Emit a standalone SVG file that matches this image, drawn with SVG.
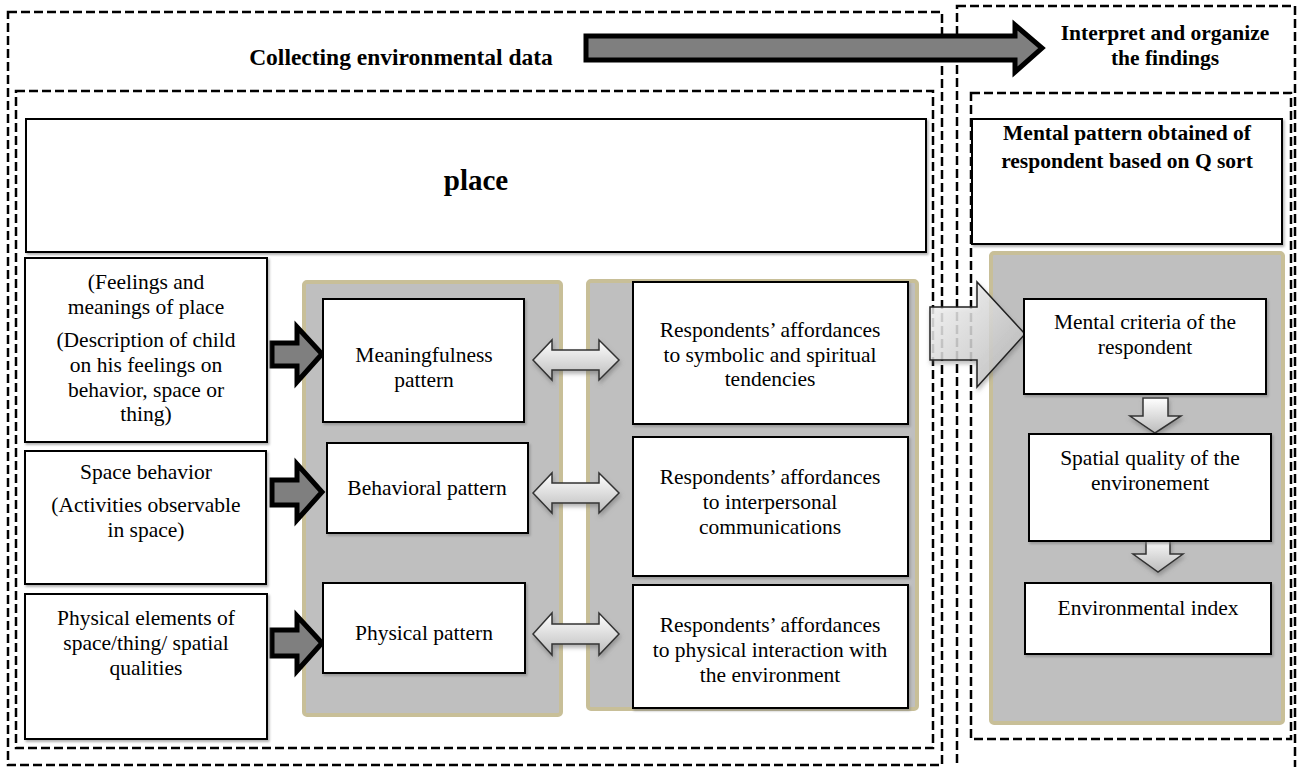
<svg xmlns="http://www.w3.org/2000/svg" width="1299" height="767" viewBox="0 0 1299 767">
<defs>
<style>
.frame{fill:none;stroke:#000;stroke-width:2.5;stroke-dasharray:9 4}
.panel{fill:#bfbfbf;stroke:#c8bf98;stroke-width:4}
.box{fill:#fff;stroke:#000;stroke-width:2;filter:url(#sh)}
.t{font-family:"Liberation Serif","Times New Roman",serif;font-size:21.5px;fill:#000;text-anchor:middle}
.b{font-weight:bold}
.dark{fill:#7f7f7f;stroke:#000;stroke-width:5;stroke-linejoin:miter}
.light{fill:url(#lg);stroke:#333;stroke-width:1.5;filter:url(#sh2)}
</style>
<linearGradient id="lg" x1="0" y1="0" x2="0" y2="1">
<stop offset="0" stop-color="#ffffff"/>
<stop offset="1" stop-color="#bcbcbc"/>
</linearGradient>
<linearGradient id="lg2" x1="0" y1="0" x2="1" y2="1">
<stop offset="0" stop-color="#ffffff"/>
<stop offset="1" stop-color="#b8b8b8"/>
</linearGradient>
<filter id="sh" x="-5%" y="-5%" width="110%" height="115%">
<feDropShadow dx="1.5" dy="2" stdDeviation="1" flood-color="#808080" flood-opacity="0.6"/>
</filter>
<filter id="sh2" x="-20%" y="-20%" width="140%" height="150%">
<feDropShadow dx="1" dy="3" stdDeviation="2" flood-color="#666" flood-opacity="0.5"/>
</filter>
</defs>
<rect width="1299" height="767" fill="#fff"/>

<g id="frames">
<rect id="frame-collecting" class="frame" x="8" y="12" width="934" height="753"/>
<rect id="frame-collecting-inner" class="frame" x="16" y="91" width="917" height="657"/>
<rect id="frame-interpret" class="frame" x="957" y="6" width="338" height="775"/>
<rect id="frame-interpret-inner" class="frame" x="971" y="93" width="320" height="646"/>
</g>

<g id="panels">
<rect id="panel-patterns" class="panel" x="304" y="282" width="257" height="433" rx="3"/>
<rect id="panel-affordances" class="panel" x="588" y="281" width="329" height="428" rx="3"/>
<rect id="panel-mental" class="panel" x="991" y="253" width="292" height="470" rx="3"/>
</g>

<g id="title-collecting"><text class="t b" x="401" y="65" style="font-size:23.5px">Collecting environmental data</text></g>
<g id="title-interpret"><text class="t b" x="1165" y="40">Interpret and organize</text><text class="t b" x="1165" y="65">the findings</text></g>

<g id="connectors">
<path id="arrow-main" class="dark" d="M586,36 L1015,36 L1015,25 L1042,48 L1015,72 L1015,60 L586,60 Z"/>
<path id="arrow-feel" class="dark" d="M272,343 L297,343 L297,327 L322,354 L297,382 L297,366 L272,366 Z"/>
<path id="arrow-space" class="dark" d="M272,480 L297,480 L297,464 L322,492 L297,520 L297,505 L272,505 Z"/>
<path id="arrow-phys" class="dark" d="M272,630 L297,630 L297,616 L322,643 L297,671 L297,656 L272,656 Z"/>
<path id="darr-1" class="light" d="M533,360 L552,340 L552,350 L599,350 L599,340 L619,360 L599,380 L599,370 L552,370 L552,380 Z"/>
<path id="darr-2" class="light" d="M533,493 L552,473 L552,483 L599,483 L599,473 L619,493 L599,513 L599,503 L552,503 L552,513 Z"/>
<path id="darr-3" class="light" d="M533,634 L552,613 L552,624 L599,624 L599,613 L619,634 L599,655 L599,644 L552,644 L552,655 Z"/>
<path id="arrow-big" d="M930,307 L977,307 L977,282 L1025,334 L977,387 L977,360 L930,360 Z" fill="url(#lg2)" fill-opacity="0.8" stroke="#222" stroke-width="1.5" filter="url(#sh2)"/>
<path id="down-1" class="light" d="M1143,398 L1168,398 L1168,416 L1181,416 L1155,433 L1130,416 L1143,416 Z"/>
<path id="down-2" class="light" d="M1146,537 L1170,537 L1170,554 L1183,554 L1158,572 L1133,554 L1146,554 Z"/>
</g>

<g id="place"><rect class="box" x="26" y="119" width="900" height="133"/><text class="t b" x="476" y="190" style="font-size:29px">place</text></g>
<g id="mental-pattern"><rect class="box" x="972" y="119" width="310" height="125"/><text class="t b" x="1127" y="140">Mental pattern obtained of</text><text class="t b" x="1127" y="168">respondent based on Q sort</text></g>

<g id="feelings"><rect class="box" x="25" y="258" width="242" height="184"/>
<text class="t" x="146" y="289">(Feelings and</text>
<text class="t" x="146" y="314">meanings of place</text>
<text class="t" x="146" y="347">(Description of child</text>
<text class="t" x="146" y="372">on his feelings on</text>
<text class="t" x="146" y="397">behavior, space or</text>
<text class="t" x="146" y="421">thing)</text></g>
<g id="space-behavior"><rect class="box" x="25" y="451" width="241" height="133"/>
<text class="t" x="146" y="479">Space behavior</text>
<text class="t" x="146" y="512">(Activities observable</text>
<text class="t" x="146" y="537">in space)</text></g>
<g id="physical-elements"><rect class="box" x="25" y="594" width="242" height="145"/>
<text class="t" x="146" y="625">Physical elements of</text>
<text class="t" x="146" y="650">space/thing/ spatial</text>
<text class="t" x="146" y="675">qualities</text></g>

<g id="meaningfulness"><rect class="box" x="323" y="299" width="201" height="123"/>
<text class="t" x="424" y="362">Meaningfulness</text>
<text class="t" x="424" y="387">pattern</text></g>
<g id="behavioral"><rect class="box" x="327" y="443" width="201" height="90"/>
<text class="t" x="427" y="495">Behavioral pattern</text></g>
<g id="physical"><rect class="box" x="323" y="583" width="202" height="90"/>
<text class="t" x="424" y="640">Physical pattern</text></g>

<g id="aff-symbolic"><rect class="box" x="633" y="282" width="275" height="142"/>
<text class="t" x="770" y="337">Respondents’ affordances</text>
<text class="t" x="770" y="362">to symbolic and spiritual</text>
<text class="t" x="770" y="386">tendencies</text></g>
<g id="aff-interpersonal"><rect class="box" x="633" y="437" width="275" height="139"/>
<text class="t" x="770" y="484">Respondents’ affordances</text>
<text class="t" x="770" y="509">to interpersonal</text>
<text class="t" x="770" y="534">communications</text></g>
<g id="aff-physical"><rect class="box" x="633" y="585" width="275" height="123"/>
<text class="t" x="770" y="632">Respondents’ affordances</text>
<text class="t" x="770" y="657">to physical interaction with</text>
<text class="t" x="770" y="682">the environment</text></g>

<g id="mental-criteria"><rect class="box" x="1024" y="299" width="242" height="95"/>
<text class="t" x="1145" y="329">Mental criteria of the</text>
<text class="t" x="1145" y="354">respondent</text></g>
<g id="spatial-quality"><rect class="box" x="1029" y="434" width="242" height="107"/>
<text class="t" x="1150" y="465">Spatial quality of the</text>
<text class="t" x="1150" y="490">environement</text></g>
<g id="env-index"><rect class="box" x="1025" y="583" width="246" height="71"/>
<text class="t" x="1148" y="615">Environmental index</text></g>
</svg>
